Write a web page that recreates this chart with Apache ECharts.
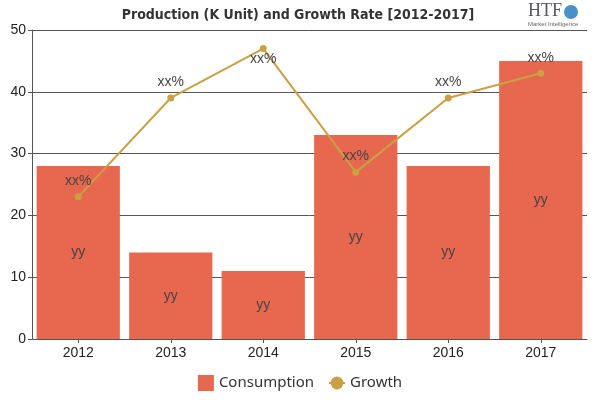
<!DOCTYPE html>
<html>
<head>
<meta charset="utf-8">
<script src="https://cdn.jsdelivr.net/npm/echarts@6/dist/echarts.min.js"></script>
<style>
  html, body { margin: 0; padding: 0; background: #fff; }
  #main { width: 600px; height: 400px; }
</style>
</head>
<body>
<div id="main"></div>
<script>
var years = ["2012", "2013", "2014", "2015", "2016", "2017"];
var consumption = [28, 14, 11, 33, 28, 45];
var growth = [23, 39, 47, 27, 39, 43];

var chart = echarts.init(document.getElementById("main"));

var growthData = growth.map(function (v, i) {
  // the 2014 label sits under its point in the original
  if (i === 2) return { value: v, label: { position: "bottom", distance: 0 } };
  return v;
});

var option = {
  animation: false,
  title: {
    text: "Production (K Unit) and Growth Rate [2012-2017]",
    left: 293,
    textAlign: "center",
    top: 3,
    textStyle: {
      fontFamily: "DejaVu Sans Condensed",
      fontWeight: "bold",
      fontSize: 14,
      color: "#333"
    }
  },
  graphic: [
    { type: "text", left: 528, top: 2, style: { text: "HTF", fontFamily: "Liberation Serif", fontSize: 18, fill: "#556" } },
    { type: "circle", shape: { cx: 571, cy: 12, r: 7 }, style: { fill: "#4a90c8" } },
    { type: "text", left: 528, top: 21, style: { text: "Market Intelligence", fontSize: 6, fill: "#666" } }
  ],
  legend: {
    bottom: 4,
    left: "center",
    itemWidth: 16,
    itemHeight: 16,
    itemGap: 14,
    textStyle: { fontSize: 15, color: "#333", fontFamily: "Noto Sans" },
    data: [
      { name: "Consumption", icon: "rect" },
      { name: "Growth" }
    ]
  },
  grid: { left: 32, right: 13, top: 30, bottom: 61 },
  xAxis: {
    type: "category",
    data: years,
    axisLine: { lineStyle: { color: "#555" } },
    axisTick: { show: true, alignWithLabel: true, length: 4, lineStyle: { color: "#555" } },
    axisLabel: { color: "#222", fontSize: 14, margin: 7 }
  },
  yAxis: {
    type: "value",
    min: 0,
    max: 50,
    interval: 10,
    axisLine: { show: true, lineStyle: { color: "#555" } },
    axisTick: { show: true, length: 4, lineStyle: { color: "#555" } },
    axisLabel: { color: "#222", fontSize: 14, margin: 6 },
    splitLine: { lineStyle: { color: "#555" } }
  },
  series: [
    {
      name: "Consumption",
      type: "bar",
      data: consumption,
      barCategoryGap: "10%",
      itemStyle: { color: "#e8684f" },
      label: { show: true, position: "inside", formatter: "yy", color: "#444", fontSize: 14 }
    },
    {
      name: "Growth",
      type: "line",
      data: growthData,
      symbol: "circle",
      symbolSize: 7,
      lineStyle: { color: "#c9a043", width: 2 },
      itemStyle: { color: "#c9a043" },
      label: { show: true, position: "top", formatter: "xx%", color: "#444", fontSize: 14 }
    }
  ]
};

option && chart.setOption(option);
</script>
</body>
</html>
